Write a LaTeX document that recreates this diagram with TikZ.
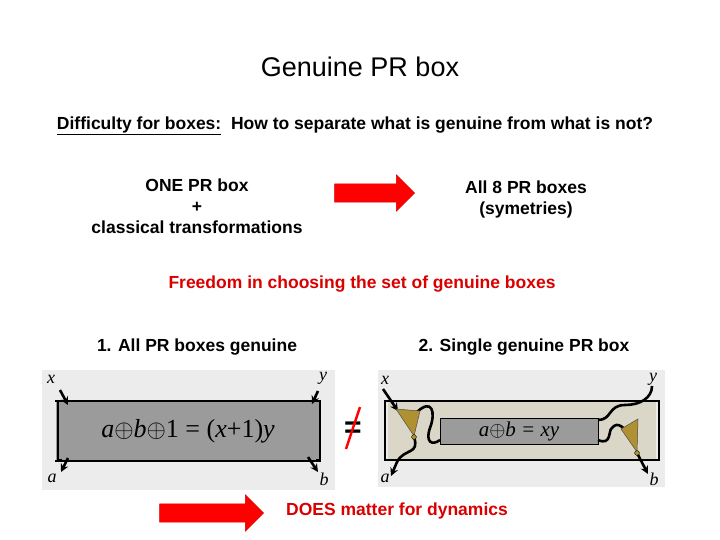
\documentclass[tikz,border=0pt]{standalone}
\usepackage{fontspec}
\setmainfont{Liberation Sans}
\newfontfamily\mathser{Liberation Serif}
\usetikzlibrary{shapes.arrows,arrows.meta}
\definecolor{panel}{RGB}{236,236,236}
\definecolor{boxg}{RGB}{155,155,155}
\definecolor{beige}{RGB}{218,215,200}
\definecolor{gold}{RGB}{175,145,50}
\tikzset{
  txt/.style={font=\bfseries\fontsize{17.5}{21}\selectfont, align=center},
  redarrow/.style={single arrow, draw=red!80!black, fill=red, minimum height=#1, text height=0pt, text depth=0pt, inner xsep=0pt, inner ysep=9pt, single arrow head extend=9pt, single arrow tip angle=90},
  io/.style={font=\mathser\itshape\fontsize{18}{18}\selectfont},
  wire/.style={line width=2.6pt, -{Stealth[length=8pt,width=8pt]}},
  cable/.style={line width=2.6pt},
  bar/.style={line width=1.5pt}
}
\begin{document}
\begin{tikzpicture}[x=1pt,y=-1pt]
\useasboundingbox (0,0) rectangle (720,540);
\node (title) at (360,67) {\fontsize{27}{32}\selectfont Genuine PR box};
\node[txt] (diff) at (355,126) {\underline{Difficulty for boxes:}\ \ How to separate what is genuine from what is not?};
\node[txt] (one) at (197,206) {ONE PR box\\+\\classical transformations};
\node[redarrow=80pt] (arr1) at (370,193) {};
\node[txt] (all) at (526,199) {All 8 PR boxes\\(symetries)};
\node[txt, text=red!85!black] (free) at (362,284) {Freedom in choosing the set of genuine boxes};
\node[txt] (l1) at (197,347) {1. All PR boxes genuine};
\node[txt] (l2) at (524,347) {2. Single genuine PR box};
% left panel
\fill[panel] (42,370) rectangle (335,490);
\node[draw=none, fill=boxg, minimum width=265pt, minimum height=60pt, inner sep=0pt] (lbox) at (188,431)
  {\mathser\itshape\fontsize{26}{26}\selectfont a$\oplus$b$\oplus$\upshape 1 = (\itshape x\upshape +1)\itshape y};
\draw[bar] (lbox.north west) -- (lbox.north east);
\draw[bar] (lbox.south west) -- (lbox.south east);
\draw[bar] (62,401)--(58,401)--(58,460)--(62,460);
\draw[bar] (316,401)--(320,401)--(320,460)--(316,460);
\node[io] (lx) at (51,379) {x};
\node[io] (ly) at (323,378) {y};
\node[io] (la) at (52,478) {a};
\node[io] (lb) at (324,479) {b};
\draw[wire] (60,390) -- (68,405);
\draw[wire] (318,391) -- (312,404);
\draw[wire] (68,458) -- (61,472);
\draw[wire] (308,457) -- (318,472);
% not equal
\node (neq) at (353,430) {\fontsize{30}{30}\selectfont\bfseries =};
\draw[red, line width=2.4pt] (346,449) -- (360,407);
% right panel
\fill[panel] (378,370) rectangle (665,487);
\fill[beige] (388,401) rectangle (656,460);
\draw[bar] (388,401)--(656,401);
\draw[bar] (388,460)--(656,460);
\draw[bar] (392,401)--(385,401)--(385,460)--(392,460);
\draw[bar] (652,401)--(659,401)--(659,460)--(652,460);
\node[draw, line width=0.8pt, fill=boxg, minimum width=158pt, minimum height=26pt, inner sep=0pt] (rbox) at (519,431)
  {\mathser\itshape\fontsize{21}{21}\selectfont a$\oplus$b = xy};
\node[io] (rx) at (385,380) {x};
\node[io] (ry) at (653,379) {y};
\node[io] (ra) at (385,478) {a};
\node[io] (rb) at (654,479) {b};
% wires
\draw[wire] (383,389) -- (398,411);
\draw[cable] (417,412) .. controls (432,398) and (436,412) .. (430,428) .. controls (425,442) and (432,446) .. (440,440);
\draw[wire] (414,437) .. controls (420,455) and (404,448) .. (397,462) -- (391,476);
\draw[cable] (652,386) .. controls (652,398) and (640,405) .. (625,405) .. controls (608,405) and (612,420) .. (598,420);
\draw[cable] (598,440) .. controls (612,446) and (608,430) .. (612,428) .. controls (618,420) and (625,430) .. (628,432);
\draw[wire] (637,453) -- (648,474);
% gold triangles
\fill[gold, draw=black!70, line width=0.5pt] (396,409) -- (420,411) -- (414,436) -- cycle;
\fill[gold, draw=black] (414,437) circle (2.4pt);
\fill[gold, draw=black!70, line width=0.5pt] (621,429) -- (638,419) -- (637,452) -- cycle;
\fill[gold, draw=black] (637,453) circle (2.4pt);
% bottom
\node[redarrow=104pt] (arr2) at (207,513) {};
\node[txt, text=red!85!black] (does) at (397,511) {DOES matter for dynamics};
\end{tikzpicture}
\end{document}
